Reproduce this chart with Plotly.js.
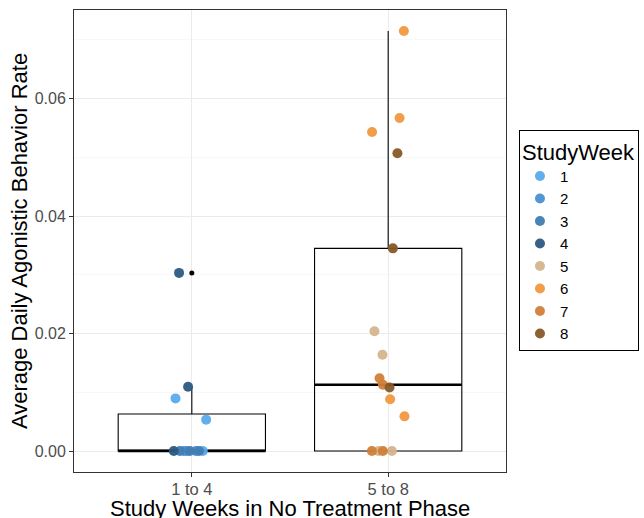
<!DOCTYPE html>
<html>
<head>
<meta charset="utf-8">
<script src="https://cdn.plot.ly/plotly-3.0.1.min.js"></script>
<style>html,body{margin:0;padding:0;background:#fff;}#chart{width:644px;height:518px;}</style>
</head>
<body>
<div id="chart"></div>
<script>
// Categories (x axis)
const groups = ['1 to 4', '5 to 8'];

// Box statistics per group
const boxQ1 = [0, 0];
const boxMedian = [0, 0.01129];
const boxQ3 = [0.00629, 0.0345];
const boxLower = [0, 0];
const boxUpper = [0.01095, 0.0715];

// Outliers (ggplot black dots)
const outlierGroup = [0];
const outlierValue = [0.03032];

// Study weeks (legend) and colours
const weeks = ['1', '2', '3', '4', '5', '6', '7', '8'];
const weekColors = ['#58ACEC', '#4A90D2', '#427CB2', '#2C5A82', '#D4B48C', '#F09840', '#D08038', '#885828'];

// Jittered points: week, group index, jitter offset, value
const pointWeek   = ['4', '4', '1', '1', '4', '3', '2', '2', '3', '2', '3', '1',
                     '6', '6', '6', '8', '8', '5', '5', '7', '7', '8', '6', '6', '7', '5', '7', '5'];
const pointGroup  = [0, 0, 0, 0, 0, 0, 0, 0, 0, 0, 0, 0,
                     1, 1, 1, 1, 1, 1, 1, 1, 1, 1, 1, 1, 1, 1, 1, 1];
const pointJitter = [-0.065, -0.019, -0.083, 0.073, -0.092, -0.061, -0.041, -0.026, -0.010, 0.020, 0.036, 0.056,
                     0.080, 0.058, -0.082, 0.047, 0.024, -0.070, -0.029, -0.044, -0.027, 0.007, 0.010, 0.083, -0.083, -0.049, -0.027, 0.019];
const pointValue  = [0.03032, 0.01095, 0.00896, 0.00534, 0, 0, 0, 0, 0, 0, 0, 0,
                     0.0715, 0.0567, 0.0543, 0.0507, 0.0345, 0.0204, 0.0164, 0.0124, 0.0113, 0.0108, 0.0088, 0.0059, 0, 0, 0, 0];

const yTicks = [0, 0.02, 0.04, 0.06];
const yTickText = ['0.00', '0.02', '0.04', '0.06'];
const xTitle = 'Study Weeks in No Treatment Phase';
const yTitle = 'Average Daily Agonistic Behavior Rate';

const FONT = 'Liberation Sans, Arial, Helvetica, sans-serif';
const boxWidth = 0.75;

const traces = [];

// Boxes
groups.forEach((g, i) => {
  traces.push({
    type: 'box',
    x: [i],
    q1: [boxQ1[i]], median: [boxMedian[i]], q3: [boxQ3[i]],
    lowerfence: [boxLower[i]], upperfence: [boxUpper[i]],
    width: boxWidth,
    whiskerwidth: 0,
    boxpoints: false,
    fillcolor: 'rgba(255,255,255,0)',
    line: {color: '#000000', width: 1.1},
    showlegend: false,
    hoverinfo: 'skip'
  });
  // thicker median line like ggplot
  traces.push({
    type: 'scatter', mode: 'lines',
    x: [i - boxWidth / 2, i + boxWidth / 2],
    y: [boxMedian[i], boxMedian[i]],
    line: {color: '#000000', width: 2.4},
    showlegend: false, hoverinfo: 'skip'
  });
});

// Outliers
traces.push({
  type: 'scatter', mode: 'markers',
  x: outlierGroup, y: outlierValue,
  marker: {color: '#000000', size: 5},
  showlegend: false, hoverinfo: 'skip'
});

// Points by week
weeks.forEach((w, k) => {
  const xs = [], ys = [];
  pointWeek.forEach((pw, j) => {
    if (pw === w) { xs.push(pointGroup[j] + pointJitter[j]); ys.push(pointValue[j]); }
  });
  traces.push({
    type: 'scatter', mode: 'markers',
    name: w,
    x: xs, y: ys,
    marker: {color: weekColors[k], size: 10, opacity: 0.95},
    showlegend: true
  });
});

const layout = {
  width: 644, height: 518,
  margin: {l: 74, r: 138, t: 10, b: 46, autoexpand: false},
  paper_bgcolor: '#ffffff', plot_bgcolor: '#ffffff',
  font: {family: FONT, color: '#000000'},
  showlegend: true,
  xaxis: {
    range: [-0.6, 1.6],
    tickvals: [0, 1], ticktext: groups,
    showgrid: true, gridcolor: '#ebebeb', gridwidth: 1,
    zeroline: false,
    showline: true, mirror: true, linecolor: '#333333', linewidth: 1,
    ticks: 'outside', ticklen: 4, tickcolor: '#333333', tickwidth: 1,
    ticklabelstandoff: -2,
    tickfont: {family: FONT, size: 16.5, color: '#4d4d4d'}
  },
  yaxis: {
    range: [-0.00357, 0.07507],
    tickvals: yTicks, ticktext: yTickText,
    showgrid: true, gridcolor: '#ebebeb', gridwidth: 1,
    minor: {dtick: 0.01, tick0: 0.01, showgrid: true, gridcolor: '#f4f4f4', gridwidth: 0.6},
    zeroline: false,
    showline: true, mirror: true, linecolor: '#333333', linewidth: 1,
    ticks: 'outside', ticklen: 4, tickcolor: '#333333', tickwidth: 1,
    tickfont: {family: FONT, size: 16, color: '#4d4d4d'},
    title: {text: yTitle, font: {family: FONT, size: 22, color: '#000000'}, standoff: 0}
  },
  annotations: [{
    text: xTitle, xref: 'paper', yref: 'paper', x: 0.5, y: -0.047,
    xanchor: 'center', yanchor: 'top', showarrow: false,
    font: {family: FONT, size: 22, color: '#000000'}
  }],
  legend: {
    x: 1.03, xanchor: 'left', y: 0.74, yanchor: 'top',
    bordercolor: '#000000', borderwidth: 1,
    bgcolor: '#ffffff',
    font: {family: FONT, size: 15, color: '#000000'},
    title: {text: 'StudyWeek', font: {family: FONT, size: 22, color: '#000000'}},
    tracegroupgap: 0,
    itemsizing: 'trace'
  }
};

Plotly.newPlot('chart', traces, layout, {staticPlot: true, displayModeBar: false});
</script>
</body>
</html>
